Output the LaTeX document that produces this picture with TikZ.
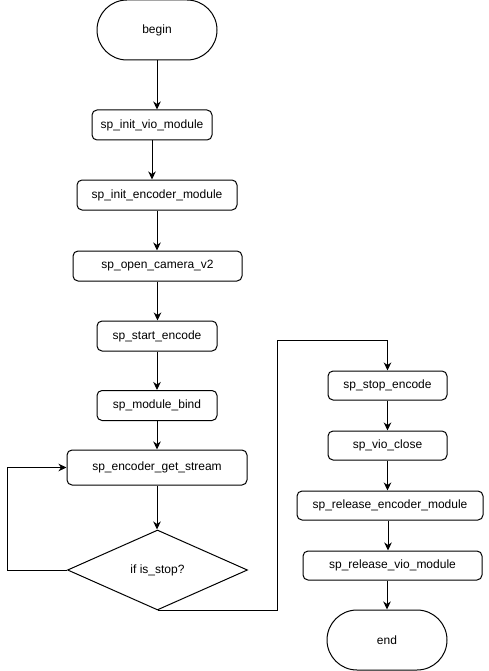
\documentclass[tikz,border=0pt]{standalone}
\usepackage{fontspec}
\setmainfont{Liberation Sans}
\usetikzlibrary{arrows.meta,shapes.geometric,shapes.misc}
\begin{document}
\begin{tikzpicture}[x=1pt,y=-1pt,
  every node/.style={font=\fontsize{12}{14}\selectfont, inner sep=0pt, line width=1pt},
  proc/.style={draw, rounded corners=5pt, minimum height=30pt},
  term/.style={draw, rounded rectangle, minimum width=120pt, minimum height=60pt},
  dec/.style={draw, diamond, aspect=2.25, minimum width=180pt, minimum height=80pt},
  conn/.style={line width=1pt, -{Stealth[length=8pt,width=7.5pt,inset=2.5pt]}}
]
\useasboundingbox (0,0) rectangle (488,671);
\node[term] (begin) at (157,30) {begin};
\node[proc, minimum width=120pt] (vio) at (152,125) {sp\_init\_vio\_module};
\node[proc, minimum width=160pt] (enc) at (157,195) {sp\_init\_encoder\_module};
\node[proc, minimum width=169pt] (cam) at (157.5,266) {sp\_open\_camera\_v2};
\node[proc, minimum width=120pt] (start) at (157,336) {sp\_start\_encode};
\node[proc, minimum width=120pt] (bind) at (157,405.5) {sp\_module\_bind};
\node[proc, minimum width=180pt, minimum height=35pt] (stream) at (157,467.5) {sp\_encoder\_get\_stream};
\node[dec] (dia) at (157.5,570) {if is\_stop?};
\node[proc, minimum width=119pt, minimum height=29pt] (stop) at (387.5,385.5) {sp\_stop\_encode};
\node[proc, minimum width=119pt, minimum height=29pt] (vclose) at (387.5,445.5) {sp\_vio\_close};
\node[proc, minimum width=186pt, minimum height=29pt] (renc) at (390,505.5) {sp\_release\_encoder\_module};
\node[proc, minimum width=179pt, minimum height=29pt] (rvio) at (392.5,565.5) {sp\_release\_vio\_module};
\node[term] (end) at (387,640) {end};
\coordinate (loopl) at (7,570);
\coordinate (turn) at (277,340);
\draw[conn] (begin.south) -- (begin.south |- vio.north);
\draw[conn] (vio.south) -- (vio.south |- enc.north);
\draw[conn] (enc.south) -- (enc.south |- cam.north);
\draw[conn] (cam.south) -- (cam.south |- start.north);
\draw[conn] (start.south) -- (bind.north);
\draw[conn] (bind.south) -- (stream.north);
\draw[conn] (stream.south) -- (stream.south |- dia.north);
\draw[conn] (dia.west) -- (loopl) |- (stream.west);
\draw[conn] (dia.south) -| (turn) -| (stop.north);
\draw[conn] (stop.south) -- (stop.south |- vclose.north);
\draw[conn] (vclose.south) -- (vclose.south |- renc.north);
\draw[conn] (renc.south -| 388,0) -- (388,0 |- rvio.north);
\draw[conn] (rvio.south -| 387,0) -- (end.north);
\end{tikzpicture}
\end{document}
